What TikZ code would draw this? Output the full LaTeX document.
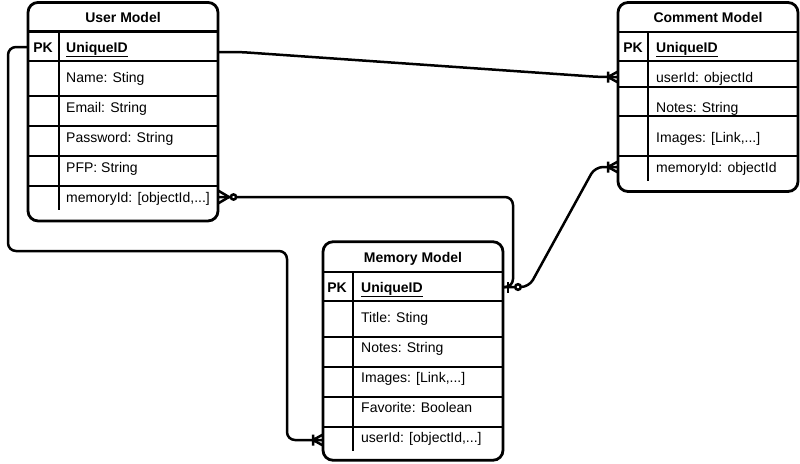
\documentclass[tikz,border=0pt]{standalone}
\usepackage{fontspec}
\setmainfont{Liberation Sans}
\usetikzlibrary{calc}

\pgfdeclarearrow{
  name = crowone,
  setup code = {
    \pgfarrowssettipend{0pt}
    \pgfarrowssetlineend{0pt}
    \pgfarrowssetbackend{-11pt}
    \pgfarrowshullpoint{0pt}{6pt}
    \pgfarrowshullpoint{0pt}{-6pt}
    \pgfarrowshullpoint{-11pt}{6pt}
    \pgfarrowshullpoint{-11pt}{-6pt}
  },
  drawing code = {
    \pgfsetdash{}{0pt}
    \pgfsetlinewidth{2.5pt}
    \pgfpathmoveto{\pgfqpoint{0pt}{5.5pt}}
    \pgfpathlineto{\pgfqpoint{-10pt}{0pt}}
    \pgfpathlineto{\pgfqpoint{0pt}{-5.5pt}}
    \pgfpathmoveto{\pgfqpoint{-10pt}{5.5pt}}
    \pgfpathlineto{\pgfqpoint{-10pt}{-5.5pt}}
    \pgfusepathqstroke
  }
}
\pgfdeclarearrow{
  name = crowzero,
  setup code = {
    \pgfarrowssettipend{0pt}
    \pgfarrowssetlineend{0pt}
    \pgfarrowssetbackend{-19pt}
    \pgfarrowshullpoint{0pt}{7pt}
    \pgfarrowshullpoint{0pt}{-7pt}
    \pgfarrowshullpoint{-19pt}{4pt}
    \pgfarrowshullpoint{-19pt}{-4pt}
  },
  drawing code = {
    \pgfsetdash{}{0pt}
    \pgfsetlinewidth{2.5pt}
    \pgfpathmoveto{\pgfqpoint{0pt}{6.5pt}}
    \pgfpathlineto{\pgfqpoint{-11pt}{0pt}}
    \pgfpathlineto{\pgfqpoint{0pt}{-6.5pt}}
    \pgfusepathqstroke
    \pgfpathcircle{\pgfqpoint{-15.5pt}{0pt}}{2.6pt}
    \pgfsetfillcolor{white}
    \pgfusepathqfillstroke
  }
}
\pgfdeclarearrow{
  name = zeroone,
  setup code = {
    \pgfarrowssettipend{0pt}
    \pgfarrowssetlineend{0pt}
    \pgfarrowssetbackend{-19pt}
    \pgfarrowshullpoint{0pt}{6pt}
    \pgfarrowshullpoint{0pt}{-6pt}
    \pgfarrowshullpoint{-19pt}{4pt}
    \pgfarrowshullpoint{-19pt}{-4pt}
  },
  drawing code = {
    \pgfsetdash{}{0pt}
    \pgfsetlinewidth{2.5pt}
    \pgfpathmoveto{\pgfqpoint{-5pt}{5.5pt}}
    \pgfpathlineto{\pgfqpoint{-5pt}{-5.5pt}}
    \pgfusepathqstroke
    \pgfpathcircle{\pgfqpoint{-15pt}{0pt}}{2.8pt}
    \pgfsetfillcolor{white}
    \pgfusepathqfillstroke
  }
}

\tikzset{
  tablebox/.style={draw, line width=2.8pt, rounded corners=10pt, inner sep=0pt, outer sep=0pt},
  headline/.style={line width=2.6pt},
  rowline/.style={line width=1.3pt},
  keycol/.style={line width=2.8pt},
  head/.style={font=\fontsize{14}{17}\selectfont\bfseries, text height=10pt, text depth=0pt, inner sep=0pt},
  pk/.style={font=\fontsize{14}{17}\selectfont\bfseries, text height=10pt, text depth=0pt, inner sep=0pt},
  field/.style={anchor=west, text height=10pt, text depth=0pt, inner sep=0pt},
  link/.style={line width=2.5pt, rounded corners=8pt}
}

\begin{document}
\begin{tikzpicture}[x=1pt, y=-1pt, font=\fontsize{14}{17}\selectfont]
\useasboundingbox (0,0) rectangle (800,463);

\node[tablebox, minimum width=190pt, minimum height=218.5pt] at (123,111.7) (user) {};
\node[head] at (123,17) (userhead) {User Model};
\draw[headline] (28,31.5) -- (218,31.5);
\foreach \y in {61,96,126,156,186}
  \draw[rowline] (28,\y) -- (218,\y);
\draw[keycol] (59,32) -- (59,210);
\node[pk] at (43,47) (upk) {PK};
\node[field] at (66,47) (uid) {\textbf{\underline{UniqueID}}};
\node[field] at (66,77) (uname) {Name: Sting};
\node[field] at (66,107) (uemail) {Email: String};
\node[field] at (66,137) (upass) {Password: String};
\node[field] at (66,167) (upfp) {PFP: String};
\node[field] at (66,197) (umem) {memoryId: [objectId,...]};

\node[tablebox, minimum width=180pt, minimum height=189pt] at (708,97) (comment) {};
\node[head] at (708,17) (commenthead) {Comment Model};
\draw[headline] (618,32) -- (798,32);
\foreach \y in {61,87,116,156}
  \draw[rowline] (618,\y) -- (798,\y);
\draw[keycol] (648,32) -- (648,181);
\node[pk] at (633,47) (cpk) {PK};
\node[field] at (656,47) (cuid) {\textbf{\underline{UniqueID}}};
\node[field] at (656,77) (cuser) {userId: objectId};
\node[field] at (656,107) (cnotes) {Notes: String};
\node[field] at (656,137) (cimg) {Images: [Link,...]};
\node[field] at (656,167) (cmem) {memoryId: objectId};

\node[tablebox, minimum width=180pt, minimum height=218.5pt] at (413,351) (memory) {};
\node[head] at (413,257) (memoryhead) {Memory Model};
\draw[headline] (323,272) -- (503,272);
\foreach \y in {301,337,367,397,427}
  \draw[rowline] (323,\y) -- (503,\y);
\draw[keycol] (353,272) -- (353,451);
\node[pk] at (337,287) (mpk) {PK};
\node[field] at (361,287) (muid) {\textbf{\underline{UniqueID}}};
\node[field] at (361,317) (mttl) {Title: Sting};
\node[field] at (361,347) (mnotes) {Notes: String};
\node[field] at (361,377) (mimg) {Images: [Link,...]};
\node[field] at (361,407) (mfav) {Favorite: Boolean};
\node[field] at (361,437) (muser) {userId: [objectId,...]};

\draw[link,-{crowone}] ($(uid -| user.east)+(0,5)$) -- ++(22,0) -- ($(cuser -| comment.west)+(-18,0)$) -- (cuser -| comment.west);
\draw[link,{crowzero}-] (umem -| user.east) -- ($(umem -| memory.east)+(10,0)$) -- ($(muid -| memory.east)+(10,0)$) -- (muid -| memory.east);
\draw[link,{zeroone}-{crowone}] (muid -| memory.east) -- ++(26,0) -- ($(cmem -| comment.west)+(-23,0)$) -- (cmem -| comment.west);
\draw[link,-{crowone}] (uid -| user.west) -- ++(-20,0) -- (8,251) -- (287,251) -- ($(muser -| memory.west)+(-36,3)$) -- ($(muser -| memory.west)+(0,3)$);
\end{tikzpicture}
\end{document}
